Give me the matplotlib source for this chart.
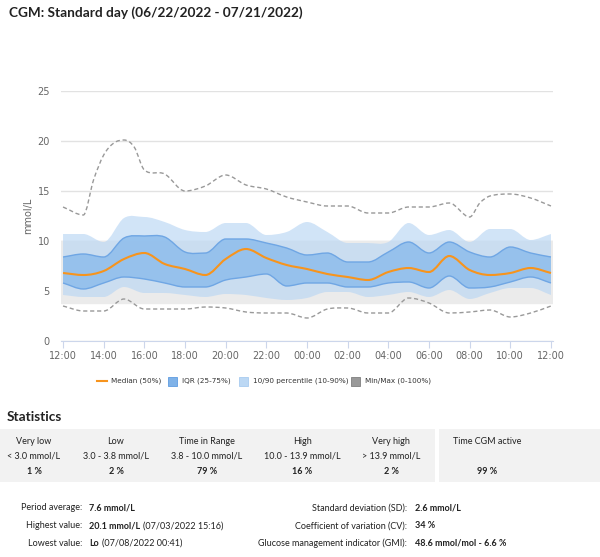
import matplotlib.pyplot as plt
import numpy as np
from matplotlib.patches import Rectangle, PathPatch
from matplotlib.path import Path
from matplotlib.lines import Line2D

# hours after 12:00
hours = list(range(25))
tick_labels = ['12:00', '14:00', '16:00', '18:00', '20:00', '22:00', '00:00',
               '02:00', '04:00', '06:00', '08:00', '10:00', '12:00']

median = [6.8, 6.6, 7.0, 8.2, 8.8, 7.7, 7.2, 6.6, 8.2, 9.2, 8.3, 7.6, 7.2,
          6.7, 6.4, 6.1, 6.9, 7.3, 6.9, 8.5, 7.1, 6.6, 6.8, 7.3, 6.8]
q25 = [5.8, 5.2, 5.8, 6.4, 6.2, 5.8, 5.4, 5.4, 6.1, 6.4, 6.7, 5.5, 5.8,
       5.8, 5.4, 5.4, 5.8, 5.9, 5.3, 6.5, 5.3, 5.4, 5.9, 6.4, 5.8]
q75 = [8.4, 8.7, 8.4, 10.3, 10.5, 10.4, 8.9, 8.8, 10.2, 10.2, 9.8, 9.3, 8.6,
       8.8, 7.9, 7.9, 8.9, 9.9, 8.8, 9.9, 8.9, 8.4, 9.4, 8.8, 8.4]
p10 = [4.6, 4.4, 4.4, 5.4, 4.8, 4.8, 4.6, 4.4, 4.7, 4.6, 4.3, 4.1, 4.3,
       4.9, 4.9, 4.4, 4.6, 4.9, 4.4, 5.1, 4.2, 4.8, 5.3, 5.3, 4.6]
p90 = [10.7, 10.7, 9.9, 12.3, 12.4, 11.9, 11.1, 10.9, 11.8, 11.8, 10.6, 10.9, 11.9,
       10.9, 9.8, 9.8, 9.9, 11.8, 10.6, 11.1, 9.9, 11.2, 11.2, 10.1, 10.7]
vmin = [3.5, 3.0, 3.0, 4.2, 3.2, 3.2, 3.2, 3.4, 3.3, 2.9, 2.8, 2.8, 2.3,
        3.2, 3.3, 2.8, 2.8, 4.3, 3.8, 2.8, 2.9, 3.1, 2.4, 2.8, 3.5]
max_hours = [0, 1, 1.5, 2, 2.5, 3, 3.5, 4, 5, 6, 7, 8, 9, 10, 11, 12,
             13, 14, 15, 16, 17, 18, 19, 20, 20.5, 21, 22, 23, 24]
vmax = [13.4, 12.6, 16.1, 18.6, 19.8, 20.1, 19.4, 17.1, 16.7, 15.0, 15.5, 16.6, 15.6, 15.2, 14.4, 13.9,
        13.5, 13.5, 12.8, 12.8, 13.4, 13.4, 13.8, 12.4, 13.8, 14.5, 14.7, 14.3, 13.5]

stat_heads = ['Very low', 'Low', 'Time in Range', 'High', 'Very high']
stat_ranges = ['< 3.0 mmol/L', '3.0 - 3.8 mmol/L', '3.8 - 10.0 mmol/L',
               '10.0 - 13.9 mmol/L', '> 13.9 mmol/L']
stat_pcts = ['1 %', '2 %', '79 %', '16 %', '2 %']
cgm_active = '99 %'

left_labels = ['Period average:', 'Highest value:', 'Lowest value:']
left_values = [('7.6 mmol/L', ''), ('20.1 mmol/L', '(07/03/2022 15:16)'), ('Lo', '(07/08/2022 00:41)')]
right_labels = ['Standard deviation (SD):', 'Coefficient of variation (CV):',
                'Glucose management indicator (GMI):']
right_values = ['2.6 mmol/L', '34 %', '48.6 mmol/mol - 6.6 %']

W, H = 600, 557
fig = plt.figure(figsize=(6, 5.57), dpi=100)


def fx(px):
    return px / W


def fy(py):
    return 1 - py / H


TF = 'Lato'
CF = 'DejaVu Sans'


def spline_verts(x, y):
    # smooth bezier segments through the data points (flat at local extremes)
    x = np.asarray(x, float)
    y = np.asarray(y, float)
    n = len(x)
    m = np.zeros(n)
    for i in range(n):
        if i == 0:
            m[i] = (y[1] - y[0]) / (x[1] - x[0])
        elif i == n - 1:
            m[i] = (y[-1] - y[-2]) / (x[-1] - x[-2])
        else:
            d0 = y[i] - y[i - 1]
            d1 = y[i + 1] - y[i]
            if d0 * d1 <= 0:
                m[i] = 0
            else:
                m[i] = (y[i + 1] - y[i - 1]) / (x[i + 1] - x[i - 1])
    verts = [(x[0], y[0])]
    for i in range(n - 1):
        dx = x[i + 1] - x[i]
        verts.append((x[i] + dx / 3, y[i] + m[i] * dx / 3))
        verts.append((x[i + 1] - dx / 3, y[i + 1] - m[i + 1] * dx / 3))
        verts.append((x[i + 1], y[i + 1]))
    return verts


def spline_line(ax, x, y, **kw):
    v = spline_verts(x, y)
    codes = [Path.MOVETO] + [Path.CURVE4] * (len(v) - 1)
    ax.add_patch(PathPatch(Path(v, codes), facecolor='none', **kw))


def spline_band(ax, x, lo, hi, **kw):
    up = spline_verts(x, hi)
    dn = spline_verts(x[::-1], lo[::-1])
    v = up + dn + [up[0]]
    codes = ([Path.MOVETO] + [Path.CURVE4] * (len(up) - 1) + [Path.LINETO]
             + [Path.CURVE4] * (len(dn) - 1) + [Path.CLOSEPOLY])
    ax.add_patch(PathPatch(Path(v, codes), **kw))


fig.text(fx(9), fy(13), 'CGM: Standard day (06/22/2022 - 07/21/2022)', fontfamily=TF,
         fontweight='bold', fontsize=9.8, va='center', ha='left', color='#222222')

# plot area
ax = fig.add_axes([fx(61), fy(341), fx(553) - fx(61), fy(91) - fy(341)])
ax.set_xlim(-0.1, 24.1)
ax.set_ylim(0, 25)
for s in ['top', 'right', 'left']:
    ax.spines[s].set_visible(False)
ax.spines['bottom'].set_color('#ccd6eb')
ax.set_yticks([0, 5, 10, 15, 20, 25])
ax.set_xticks(range(0, 25, 2))
ax.set_xticklabels(tick_labels)
ax.tick_params(axis='y', length=0, labelsize=7, labelcolor='#666666', pad=8)
ax.tick_params(axis='x', length=5, color='#ccd6eb', labelsize=7, labelcolor='#666666', pad=2)
ax.grid(axis='y', color='#e2e2e2', linewidth=1)
ax.set_axisbelow(True)
ax.set_ylabel('mmol/L', fontsize=7, color='#666666', labelpad=3)

ax.axhspan(3.8, 10, color='#ebebeb', zorder=1)
spline_band(ax, hours, p10, p90, facecolor='#b9d6f4', alpha=0.65, linewidth=0, zorder=2)
spline_band(ax, hours, q25, q75, facecolor='#8dbdec', alpha=0.85, linewidth=0, zorder=3)
spline_line(ax, hours, q25, edgecolor='#6fa6e4', linewidth=1, zorder=4)
spline_line(ax, hours, q75, edgecolor='#6fa6e4', linewidth=1, zorder=4)
spline_line(ax, hours, median, edgecolor='#f7941d', linewidth=1.5, zorder=5)
spline_line(ax, hours, vmin, edgecolor='#999999', linewidth=1, linestyle=(0, (3, 2)), zorder=5)
spline_line(ax, max_hours, vmax, edgecolor='#999999', linewidth=1, linestyle=(0, (3, 2)), zorder=5)

# legend
ly = 381
fig.add_artist(Line2D([fx(97), fx(107)], [fy(ly), fy(ly)], color='#f7941d', linewidth=1.5))
fig.text(fx(111), fy(ly), 'Median (50%)', fontsize=5.2, color='#333333', va='center', fontfamily=CF)
legend_boxes = [(168, 'IQR (25-75%)', '#7fb2e8', '#5f9ce0'),
                (239, '10/90 percentile (10-90%)', '#bcd8f4', '#a8cbf0'),
                (351, 'Min/Max (0-100%)', '#999999', '#7f7f7f')]
for x0, lab, fc, ec in legend_boxes:
    fig.add_artist(Rectangle((fx(x0), fy(ly + 4.5)), fx(9), fy(ly - 4.5) - fy(ly + 4.5),
                             facecolor=fc, edgecolor=ec, linewidth=0.6))
    fig.text(fx(x0 + 14), fy(ly), lab, fontsize=5.2, color='#333333', va='center', fontfamily=CF)

# statistics
fig.text(fx(7), fy(417), 'Statistics', fontfamily=TF, fontweight='bold', fontsize=9.8,
         va='center', color='#222222')
fig.add_artist(Rectangle((0, fy(482)), fx(435), fy(429) - fy(482), facecolor='#f2f2f2',
                         edgecolor='none'))
fig.add_artist(Rectangle((fx(439), fy(482)), fx(600) - fx(439), fy(429) - fy(482),
                         facecolor='#f2f2f2', edgecolor='none'))
col_x = [34, 116, 207, 302, 391]
fs = 6.5
for cx, h, r, p in zip(col_x, stat_heads, stat_ranges, stat_pcts):
    fig.text(fx(cx), fy(441), h, fontfamily=TF, fontsize=fs, ha='center', va='center', color='#222222')
    fig.text(fx(cx), fy(456), r, fontfamily=TF, fontsize=fs, ha='center', va='center', color='#222222')
    fig.text(fx(cx), fy(472), p, fontfamily=TF, fontsize=fs, fontweight='bold', ha='center',
             va='center', color='#222222')
fig.text(fx(487), fy(441), 'Time CGM active', fontfamily=TF, fontsize=fs, ha='center', va='center',
         color='#222222')
fig.text(fx(487), fy(472), cgm_active, fontfamily=TF, fontsize=fs, fontweight='bold', ha='center',
         va='center', color='#222222')

row_y = [508, 526, 543]
for ry, lab, (val, extra) in zip(row_y, left_labels, left_values):
    fig.text(fx(82), fy(ry), lab, fontfamily=TF, fontsize=fs, ha='right', va='center', color='#222222')
    t = fig.text(fx(89), fy(ry), val, fontfamily=TF, fontsize=fs, fontweight='bold', ha='left',
                 va='center', color='#222222')
    if extra:
        fig.canvas.draw()
        bb = t.get_window_extent()
        fig.text(bb.x1 / W + fx(3), fy(ry), extra, fontfamily=TF, fontsize=fs, ha='left',
                 va='center', color='#222222')
for ry, lab, val in zip(row_y, right_labels, right_values):
    fig.text(fx(407), fy(ry), lab, fontfamily=TF, fontsize=fs, ha='right', va='center', color='#222222')
    fig.text(fx(415), fy(ry), val, fontfamily=TF, fontsize=fs, fontweight='bold', ha='left',
             va='center', color='#222222')

fig.savefig('out.png', dpi=100)
